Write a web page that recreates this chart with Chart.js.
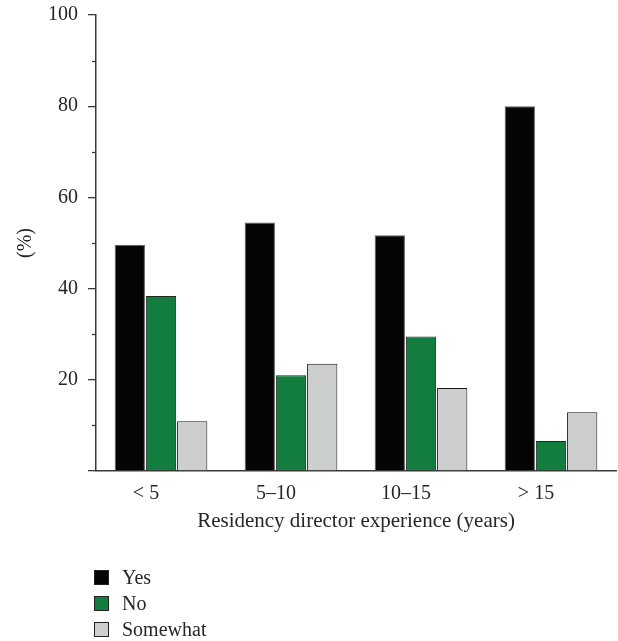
<!DOCTYPE html>
<html>
<head>
<meta charset="utf-8">
<script src="https://cdn.jsdelivr.net/npm/chart.js@4/dist/chart.umd.min.js"></script>
<style>
  html, body { margin: 0; padding: 0; background: #fff; }
  #wrap { position: relative; width: 618px; height: 641px; }
  #legend { position: absolute; left: 94px; top: 564px; font-family: "Liberation Serif", serif; font-size: 20px; color: #262626; }
  .item { display: flex; align-items: center; height: 26px; }
  .box { width: 13px; height: 13px; border: 1px solid #222; margin-right: 13px; }
</style>
</head>
<body>
<div id="wrap">
  <canvas id="chart" width="618" height="641"></canvas>
  <div id="legend"></div>
</div>
<script>
// experience groups (years)
const categories = ['< 5', '5–10', '10–15', '> 15'];
const seriesNames = ['Yes', 'No', 'Somewhat'];
const yesValues = [49.6, 54.5, 51.7, 80.0];
const noValues = [38.4, 21.0, 29.5, 6.6];
const somewhatValues = [10.9, 23.5, 18.2, 12.9];
const majorTicks = [0, 20, 40, 60, 80, 100];
const minorTicks = [10, 30, 50, 70, 90];

const axisColor = '#3a3a3a';
const textColor = '#262626';
const serif = 'Liberation Serif';

// short minor tick marks on the y axis
const minorTickPlugin = {
  id: 'minorTicks',
  afterDraw(chart) {
    const y = chart.scales.y;
    const ctx = chart.ctx;
    ctx.save();
    ctx.strokeStyle = axisColor;
    ctx.lineWidth = 1.3;
    minorTicks.forEach(v => {
      const py = Math.round(y.getPixelForValue(v)) + 0.5;
      ctx.beginPath();
      ctx.moveTo(y.right - 4, py);
      ctx.lineTo(y.right, py);
      ctx.stroke();
    });
    ctx.restore();
  }
};

const ctx = document.getElementById('chart').getContext('2d');
const chart = new Chart(ctx, {
  type: 'bar',
  data: {
    labels: categories,
    datasets: [
      { label: seriesNames[0], data: yesValues, backgroundColor: '#050604', borderColor: '#5a5a5a', borderWidth: 1 },
      { label: seriesNames[1], data: noValues, backgroundColor: '#137c3f', borderColor: '#1c2a20', borderWidth: 1 },
      { label: seriesNames[2], data: somewhatValues, backgroundColor: '#cdcfce', borderColor: '#1a1a1a', borderWidth: 1 }
    ]
  },
  options: {
    responsive: false,
    animation: false,
    categoryPercentage: 0.72,
    barPercentage: 0.97,
    layout: { padding: { left: 0, top: 15, right: 2, bottom: 95 } },
    plugins: {
      legend: { display: false },
      tooltip: { enabled: false }
    },
    scales: {
      x: {
        grid: { display: false },
        border: { display: true, color: axisColor, width: 1.5 },
        ticks: {
          color: textColor,
          font: { family: serif, size: 20 },
          padding: 3,
          labelOffset: -15
        },
        title: {
          display: true,
          text: 'Residency director experience (years)',
          color: textColor,
          font: { family: serif, size: 21 },
          padding: { top: 0, bottom: 12 }
        },
        afterFit(scale) { scale.height = 75; }
      },
      y: {
        min: 0,
        max: 100,
        afterBuildTicks(scale) { scale.ticks = majorTicks.map(v => ({ value: v })); },
        grid: { drawOnChartArea: false, drawTicks: true, tickLength: 8, color: axisColor, tickColor: axisColor, lineWidth: 1.3 },
        border: { display: true, color: axisColor, width: 1.5 },
        ticks: {
          color: textColor,
          font: { family: serif, size: 20 },
          padding: 10,
          callback: v => (v === 0 ? '' : v)
        },
        title: {
          display: true,
          text: '(%)',
          color: textColor,
          font: { family: serif, size: 20 },
          padding: { top: 14, bottom: 0 }
        },
        afterFit(scale) {
          scale.width = 96;
          scale.paddingTop = 0;
          scale.paddingBottom = 0;
        }
      }
    }
  },
  plugins: [minorTickPlugin]
});

// vertical legend built from the chart datasets
const legend = document.getElementById('legend');
chart.data.datasets.forEach(ds => {
  const item = document.createElement('div');
  item.className = 'item';
  const box = document.createElement('span');
  box.className = 'box';
  box.style.background = ds.backgroundColor;
  const label = document.createElement('span');
  label.textContent = ds.label;
  item.appendChild(box);
  item.appendChild(label);
  legend.appendChild(item);
});
</script>
</body>
</html>
